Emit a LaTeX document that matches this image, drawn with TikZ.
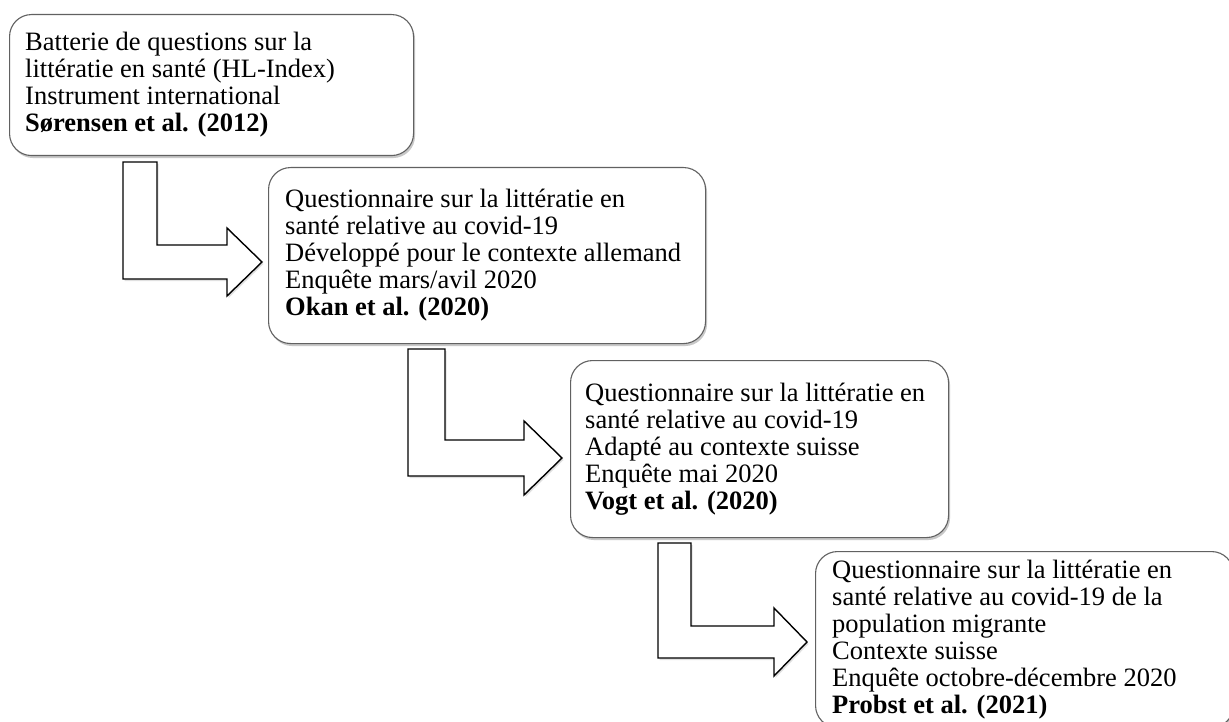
\documentclass[tikz,border=0pt]{standalone}
\usepackage{fontspec}
\setmainfont{Liberation Serif}
\usetikzlibrary{shadows}
\tikzset{
  boxshape/.style={draw=black!62, line width=1.1pt, fill=white, rounded corners=22pt,
    rectangle, inner sep=0pt, anchor=north west,
    drop shadow={shadow xshift=1.5pt, shadow yshift=-2.5pt, opacity=0.3, fill=black!70}},
  boxtext/.style={anchor=west, align=left, inner sep=0pt,
    font=\fontsize{26.5}{27}\selectfont},
  bentarrow/.style={draw=black, line width=1.4pt, fill=white, line join=miter,
    drop shadow={shadow xshift=1.5pt, shadow yshift=-2pt, opacity=0.2, fill=black!60}}
}
\begin{document}
\begin{tikzpicture}[x=1pt,y=-1pt]
\useasboundingbox (0,0) rectangle (1229,722);
\fill[white] (0,0) rectangle (1229,722);

% bent arrows
\draw[bentarrow] (123,162) -- (157,162) -- (157,245) -- (227,245) -- (227,228)
  -- (262,262) -- (227,296) -- (227,279) -- (123,279) -- cycle;
\draw[bentarrow] (408,349) -- (445,349) -- (445,440) -- (524,440) -- (524,421)
  -- (562,458) -- (524,495) -- (524,476) -- (408,476) -- cycle;
\draw[bentarrow] (658,543) -- (691,543) -- (691,626) -- (774,626) -- (774,608)
  -- (807,642) -- (774,676) -- (774,658) -- (658,658) -- cycle;

% boxes
\node[boxshape, minimum width=404pt, minimum height=141pt] (b1) at (9,14) {};
\node[boxshape, minimum width=437pt, minimum height=176pt] (b2) at (268,167) {};
\node[boxshape, minimum width=378pt, minimum height=177pt] (b3) at (570,360) {};
\node[boxshape, minimum width=418pt, minimum height=176pt] (b4) at (815,551) {};

% texts
\node[boxtext] (t1) at ([xshift=16pt]b1.west) {Batterie de questions sur la\\littératie en santé (HL-Index)\\Instrument international\\\textbf{Sørensen et al. (2012)}};
\node[boxtext] (t2) at ([xshift=17pt]b2.west) {Questionnaire sur la littératie en\\santé relative au covid-19\\Développé pour le contexte allemand\\Enquête mars/avil 2020\\\textbf{Okan et al. (2020)}};
\node[boxtext] (t3) at ([xshift=15pt]b3.west) {Questionnaire sur la littératie en\\santé relative au covid-19\\Adapté au contexte suisse\\Enquête mai 2020\\\textbf{Vogt et al. (2020)}};
\node[boxtext] (t4) at ([xshift=17pt]b4.west) {Questionnaire sur la littératie en\\santé relative au covid-19 de la\\population migrante\\Contexte suisse\\Enquête octobre-décembre 2020\\\textbf{Probst et al. (2021)}};
\end{tikzpicture}
\end{document}
